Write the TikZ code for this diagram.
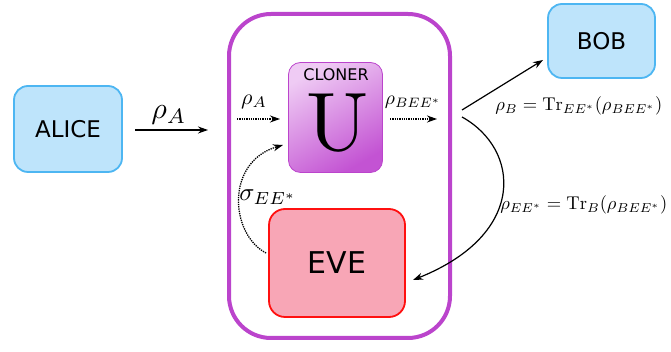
\documentclass[tikz,border=0pt]{standalone}
\usepackage{fontspec}
\newfontfamily\labfont{DejaVu Sans}
\usetikzlibrary{arrows.meta}
\definecolor{bluefill}{HTML}{BEE4FB}
\definecolor{blueline}{HTML}{4DB6F2}
\definecolor{pinkfill}{HTML}{F8A6B6}
\definecolor{evered}{HTML}{FF1010}
\definecolor{purpline}{HTML}{BB44CC}
\definecolor{clonelight}{HTML}{EFCBF4}
\definecolor{clonedark}{HTML}{C353D3}
\tikzset{
  party/.style={draw=blueline, fill=bluefill, line width=1.8pt, rounded corners=14pt, font=\labfont\fontsize{23}{26}\selectfont},
  evebox/.style={draw=evered, fill=pinkfill, line width=1.8pt, rounded corners=16pt, font=\labfont\fontsize{30}{34}\selectfont},
  arr/.style={line width=1.2pt, -{Stealth[length=10pt,width=7pt]}},
  dotarr/.style={line width=1.3pt, densely dotted, -{Stealth[length=10pt,width=7pt]}},
  mlab/.style={inner sep=0pt, scale=#1},
}
\begin{document}
\begin{tikzpicture}[x=1pt,y=1pt]
\useasboundingbox (0,0) rectangle (671,352);
% outer box
\draw[purpline, line width=4pt, rounded corners=42pt] (229,14) rectangle (450,338);
% nodes
\node[party, minimum width=108pt, minimum height=86pt] (alice) at (68,223) {ALICE};
\node[party, minimum width=107pt, minimum height=74pt] (bob) at (601.5,311) {BOB};
\node[evebox, minimum width=136pt, minimum height=108pt] (eve) at (337,89) {EVE};
\node[draw=purpline, line width=0.8pt, rounded corners=12pt, minimum width=94pt, minimum height=110pt,
      top color=clonelight, bottom color=clonedark, shading angle=30] (cloner) at (335.5,234.5) {};
\node[font=\labfont\fontsize{16}{18}\selectfont, inner sep=0pt] (clonertxt) at (336,277) {CLONER};
\node[mlab=8.3] (u) at (338,229) {$\mathrm{U}$};
% coordinates
\coordinate (a1) at (135,222);
\coordinate (a2) at (208,222);
\coordinate (r1) at (237,233);
\coordinate (r2) at (280,233);
\coordinate (b1) at (390,233);
\coordinate (b2) at (437,233);
\coordinate (s0) at (462,242);
\coordinate (s1) at (462,235);
\coordinate (e1) at (266,99);
\coordinate (c1) at (283,207);
\coordinate (bobtip) at (543,292);
\coordinate (evetip) at (413,72);
% connectors
\draw[arr] (a1) -- (a2);
\node[mlab=3.0] (rAout) at (169,237) {$\rho_A$};
\draw[dotarr] (r1) -- (r2);
\node[mlab=2.2] (rAlab) at (254,250) {$\rho_A$};
\draw[dotarr] (b1) -- (b2);
\node[mlab=1.95] (rBlab) at (413,250) {$\rho_{BEE^*}$};
\draw[arr] (s0) -- (bobtip);
\draw[arr] (s1) .. controls (520,203) and (528,118) .. (evetip);
\draw[dotarr] (e1) .. controls (230,118) and (225,190) .. (c1);
\node[mlab=2.5] (siglab) at (268,155) {$\sigma_{EE^*}$};
\node[mlab=1.85, anchor=west] (lb) at (495,246) {$\rho_B=\mathrm{Tr}_{EE^*}(\rho_{BEE^*})$};
\node[mlab=1.85, anchor=west] (le) at (500,147) {$\rho_{EE^*}=\mathrm{Tr}_{B}(\rho_{BEE^*})$};
\end{tikzpicture}
\end{document}
